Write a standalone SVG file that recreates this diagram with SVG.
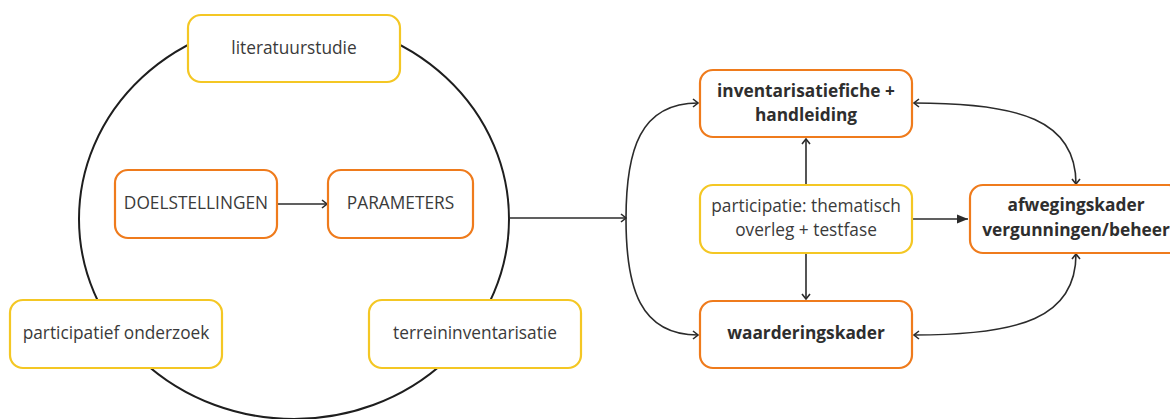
<svg xmlns="http://www.w3.org/2000/svg" width="1170" height="419" viewBox="0 0 1170 419">
  <style>
    .box { fill: #ffffff; stroke-width: 2.2; }
    .yellow { stroke: #f4c724; }
    .orange { stroke: #ef7b1c; }
    .lbl { font-family: "Open Sans", "Noto Sans", sans-serif; font-size: 17.3px; fill: #3a3a3a; text-anchor: middle; }
    .bold { font-weight: 700; fill: #2e2e2e; }
    .conn { fill: none; stroke: #2b2b2b; stroke-width: 1.6; }
  </style>
  <defs>
    <marker id="chev" viewBox="0 0 10 10" refX="9" refY="5" markerWidth="10" markerHeight="10" markerUnits="userSpaceOnUse" orient="auto-start-reverse">
      <path d="M4,1 L9,5 L4,9" fill="none" stroke="#2b2b2b" stroke-width="1.6"/>
    </marker>
    <marker id="tri" viewBox="0 0 10 10" refX="10" refY="5" markerWidth="11" markerHeight="11" markerUnits="userSpaceOnUse" orient="auto">
      <path d="M0,1 L10,5 L0,9 Z" fill="#2b2b2b"/>
    </marker>
  </defs>

  <!-- research cycle -->
  <ellipse cx="294" cy="219" rx="215" ry="200" fill="none" stroke="#1e1e1e" stroke-width="2"/>

  <g id="connectors">
    <path class="conn" d="M278,204 L327,204" marker-end="url(#chev)"/>
    <path class="conn" d="M509,218 L626,218" marker-end="url(#chev)"/>
    <path class="conn" d="M698,103 C640,103 626,150 626,219 C626,288 640,335 698,335" marker-start="url(#chev)" marker-end="url(#chev)"/>
    <path class="conn" d="M806,185 L806,139" marker-end="url(#chev)"/>
    <path class="conn" d="M806,253 L806,299" marker-end="url(#chev)"/>
    <path class="conn" d="M913,219 L968,219" marker-end="url(#tri)"/>
    <path class="conn" d="M914,103 C1020,103 1076,120 1076,184" marker-start="url(#chev)" marker-end="url(#chev)"/>
    <path class="conn" d="M914,335 C1020,335 1076,318 1076,254" marker-start="url(#chev)" marker-end="url(#chev)"/>
  </g>

  <g id="literatuurstudie">
    <rect class="box yellow" x="188" y="15" width="212" height="67" rx="13"/>
    <text class="lbl" x="294" y="54">literatuurstudie</text>
  </g>
  <g id="doelstellingen">
    <rect class="box orange" x="115" y="170" width="162" height="68" rx="13"/>
    <text class="lbl" x="196" y="209">DOELSTELLINGEN</text>
  </g>
  <g id="parameters">
    <rect class="box orange" x="328" y="170" width="145" height="68" rx="13"/>
    <text class="lbl" x="400.5" y="209">PARAMETERS</text>
  </g>
  <g id="participatief-onderzoek">
    <rect class="box yellow" x="10" y="300" width="212" height="68" rx="13"/>
    <text class="lbl" x="116" y="339">participatief onderzoek</text>
  </g>
  <g id="terreininventarisatie">
    <rect class="box yellow" x="369" y="300" width="212" height="68" rx="13"/>
    <text class="lbl" x="475" y="339">terreininventarisatie</text>
  </g>

  <g id="inventarisatiefiche">
    <rect class="box orange" x="700" y="70" width="212" height="67" rx="13"/>
    <text class="lbl bold" x="806" y="97">inventarisatiefiche +</text>
    <text class="lbl bold" x="806" y="121">handleiding</text>
  </g>
  <g id="participatie">
    <rect class="box yellow" x="700" y="185" width="212" height="68" rx="13"/>
    <text class="lbl" x="806" y="212">participatie: thematisch</text>
    <text class="lbl" x="806" y="236">overleg + testfase</text>
  </g>
  <g id="waarderingskader">
    <rect class="box orange" x="700" y="301" width="212" height="67" rx="13"/>
    <text class="lbl bold" x="806" y="339">waarderingskader</text>
  </g>
  <g id="afwegingskader">
    <rect class="box orange" x="970" y="185" width="212" height="68" rx="13"/>
    <text class="lbl bold" x="1076" y="211">afwegingskader</text>
    <text class="lbl bold" x="1076" y="236">vergunningen/beheer</text>
  </g>
</svg>
